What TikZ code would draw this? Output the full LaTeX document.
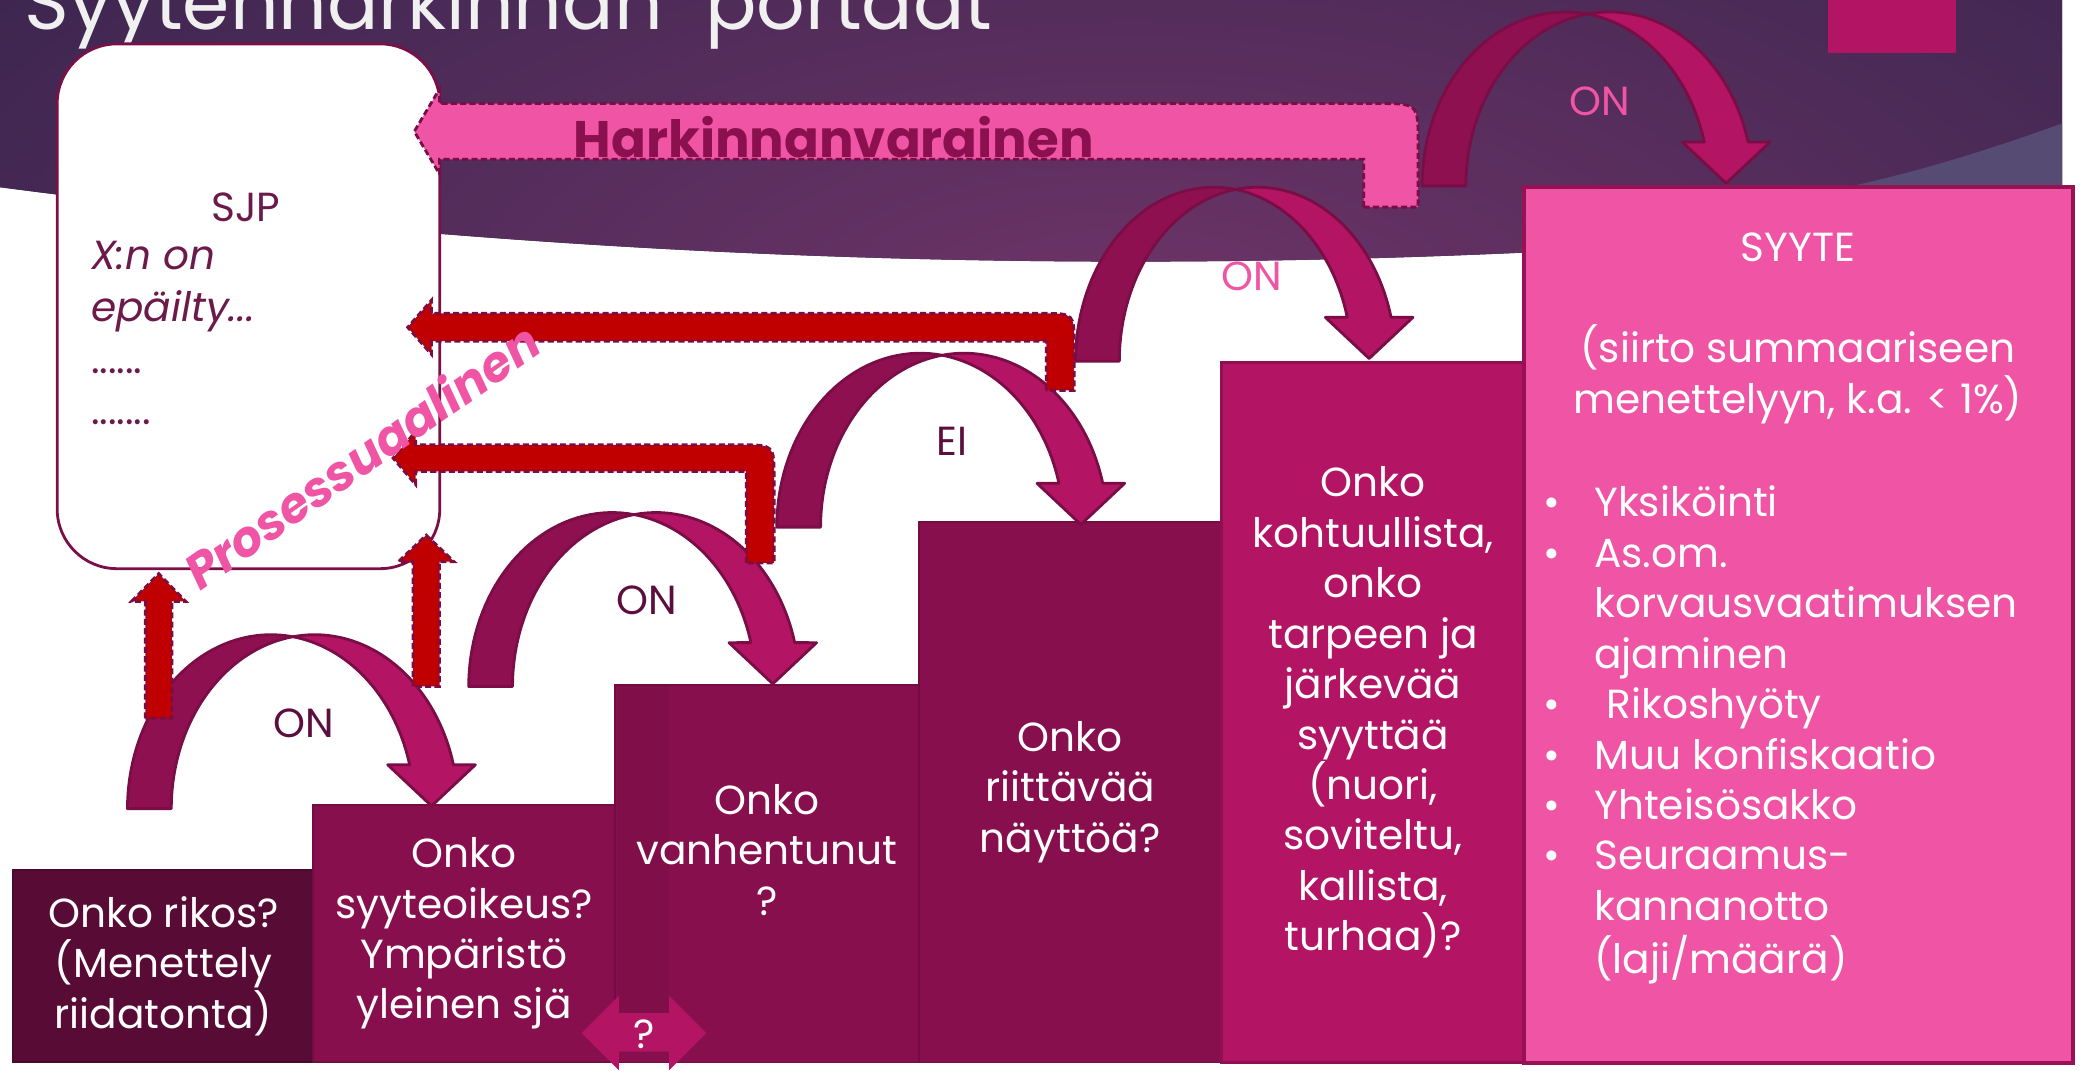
\documentclass[tikz,border=0pt]{standalone}
\usepackage{fontspec}
\setmainfont{Poppins}

\definecolor{bgdark}{HTML}{2A2146}
\definecolor{bgmid}{HTML}{6E3468}
\definecolor{bglav}{HTML}{564C73}
\definecolor{plum}{HTML}{5C0F3E}
\definecolor{sjpplum}{HTML}{6B1A4A}
\definecolor{sjpedge}{HTML}{7A1048}
\definecolor{boxone}{HTML}{570B35}
\definecolor{boxmid}{HTML}{870F4D}
\definecolor{boxhot}{HTML}{B31464}
\definecolor{boxpink}{HTML}{EF55A4}
\definecolor{arrback}{HTML}{8E1051}
\definecolor{arrfront}{HTML}{B31464}
\definecolor{arredge}{HTML}{7A0D46}
\definecolor{procred}{HTML}{C00000}
\definecolor{harktext}{HTML}{8A1050}

\newcommand{\bodyfont}{\fontsize{8.7}{10.8}\selectfont}

\tikzset{
  backband/.style={fill=arrback, draw=arredge, line width=0.6pt, line join=round},
  frontband/.style={fill=arrfront, draw=arredge, line width=0.6pt, line join=round},
  procarrow/.style={fill=procred, draw=arredge, line width=0.6pt, dash pattern=on 1.3pt off 0.7pt},
  harkarrow/.style={fill=boxpink, draw=arredge, line width=0.6pt, dash pattern=on 1.3pt off 0.7pt},
  stairbox/.style={rectangle, anchor=north west, inner sep=0pt, outer sep=0pt, text=white, align=center, font=\bodyfont},
  sjpbox/.style={rectangle, anchor=north west, draw=sjpedge, fill=white, line width=0.6pt, rounded corners=0.45cm, minimum width=2.88cm, minimum height=3.95cm},
  sjptext/.style={text=sjpplum, font=\bodyfont, inner sep=0pt},
  sjpline/.style={sjptext, anchor=base west},
  jumplbl/.style={text=plum, font=\bodyfont, inner sep=0pt},
}

\newcommand{\jumparrow}[3]{%
  \pgfmathsetmacro{\cxa}{#1+#3}%
  \pgfmathsetmacro{\cxb}{#1+#3+33}%
  \pgfmathsetmacro{\ta}{acos(16.5/#3)}%
  \pgfmathsetmacro{\tb}{180-\ta}%
  \pgfmathsetmacro{\hx}{#1+#3+16.5+#3*cos(14.6)}%
  \draw[backband] plot[domain=180:\ta,samples=40] ({\cxa+#3*cos(\x)},{#2-131*sin(\x)})
    -- plot[domain=\tb:180,samples=40] ({\cxb+#3*cos(\x)},{#2-131*sin(\x)}) -- cycle;
  \draw[frontband] plot[domain=\tb:14.6,samples=40] ({\cxb+#3*cos(\x)},{#2-131*sin(\x)})
    -- ({\hx+33},{#2-33}) -- (\hx,{#2-2}) -- ({\hx-33},{#2-33})
    -- plot[domain=14.6:\ta,samples=40] ({\cxa+#3*cos(\x)},{#2-131*sin(\x)}) -- cycle;
}

\begin{document}
\begin{tikzpicture}[x=0.01cm, y=-0.01cm]
\useasboundingbox (0,0) rectangle (1568,806);
\clip (0,0) rectangle (1568,806);
\fill[white] (0,0) rectangle (1568,806);

\fill[bgdark] (0,0) -- (1553,0) -- (1553,159) .. controls (1035.3,215.1) and (517.7,209.1) .. (0,141) -- cycle;
\begin{scope}
\clip (0,0) -- (1553,0) -- (1553,159) .. controls (1035.3,215.1) and (517.7,209.1) .. (0,141) -- cycle;
\shade[inner color=bgmid, outer color=bgdark] (850,240) ellipse (14cm and 6.2cm);
\end{scope}
\fill[bglav] (1391,141) .. controls (1450,128) and (1500,112) .. (1553,93) -- (1553,141) -- cycle;

\node[anchor=base west, text=white!94!black, font=\fontsize{16.3}{19}\selectfont, inner sep=0pt] (title) at (18,22) {Syytenharkinnan\hspace{0.18em}”portaat”};
\fill[boxhot] (1377,0) rectangle (1473,40);

\node[sjpbox] (sjp) at (42,32) {};
\node[sjptext] (sjphead) at (185,156) {SJP};
\node[sjpline] (sjpa) at (68,203) {\textit{X:n on}};
\node[sjpline] (sjpb) at (68,242) {\textit{epäilty...}};
\node[sjpline] (sjpc) at (68,281) {......};
\node[sjpline] (sjpd) at (68,320) {.......};

\draw[harkarrow] (1027,156) -- (1027,120) -- (331,120) -- (331,131) -- (312,99) -- (331,67) -- (331,78) -- (1038,78) .. controls (1068,78) .. (1068,108) -- (1068,156) -- cycle;
\node[text=harktext, font=\fontsize{11}{13}\selectfont\bfseries, inner sep=0pt] (hark) at (628,103) {Harkinnanvarainen};

\node[stairbox, fill=boxone, draw=boxone!85!black, minimum width=2.26cm, minimum height=1.45cm] (rikos) at (10,655) {Onko rikos?\\(Menettely\\riidatonta)};
\node[stairbox, fill=boxmid, draw=boxmid!85!black, minimum width=2.27cm, minimum height=1.94cm] (oikeus) at (236,606) {Onko\\syyteoikeus?\\Ympäristö\\yleinen sjä};
\node[stairbox, fill=boxmid, draw=boxmid!85!black, minimum width=2.29cm, minimum height=2.84cm] (vanh) at (463,516) {};
\fill[boxmid!95!black] (465,517) rectangle (504,763);
\node[text=white, font=\bodyfont, align=center, inner sep=0pt] (vanhtext) at (577.5,640) {Onko\\vanhentunut\\?};
\node[stairbox, fill=boxmid, draw=boxmid!85!black, minimum width=2.28cm, minimum height=4.07cm] (naytto) at (692,393) {Onko\\riittävää\\näyttöä?};
\node[stairbox, fill=boxhot, draw=arrback, line width=0.6pt, minimum width=2.28cm, minimum height=5.27cm] (kohtuus) at (920,273) {Onko\\kohtuullista,\\onko\\tarpeen ja\\järkevää\\syyttää\\(nuori,\\soviteltu,\\kallista,\\turhaa)?};
\node[stairbox, fill=boxpink, draw=boxhot!85!black, line width=0.8pt, minimum width=4.13cm, minimum height=6.59cm] (syyte) at (1148,141) {};
\node[text=white, font=\bodyfont, align=center, anchor=north, inner sep=0pt] (syytehead) at (1354,175) {SYYTE\\[10.8pt](siirto summaariseen\\menettelyyn, k.a. < 1\%)};
\node[text=white, font=\bodyfont, anchor=north west, inner sep=0pt] (syytelist) at (1162,362) {\begin{tabular}{@{}p{0.38cm}@{}l@{}}
\textbullet & Yksiköinti\\
\textbullet & As.om.\\
 & korvausvaatimuksen\\
 & ajaminen\\
\textbullet & \hspace{0.3em}Rikoshyöty\\
\textbullet & Muu konfiskaatio\\
\textbullet & Yhteisösakko\\
\textbullet & Seuraamus-\\
 & kannanotto\\
 & (laji/määrä)
\end{tabular}};

\fill[boxhot] (438,778) -- (466,750) -- (466,763) -- (504,763) -- (504,750) -- (532,778) -- (504,806) -- (504,792) -- (466,792) -- (466,806) -- cycle;
\node[text=white, font=\bodyfont, inner sep=0pt] (ehka) at (485,779) {?};

\jumparrow{96}{609}{108}
\jumparrow{353}{517}{108}
\jumparrow{585}{397}{108}
\jumparrow{810}{272}{104}
\jumparrow{1071}{140}{108}
\node[jumplbl] (onA) at (229,545) {ON};
\node[jumplbl] (onB) at (487,452) {ON};
\node[jumplbl] (eiC) at (717,332) {EI};
\node[jumplbl, text=boxpink] (onD) at (943,208) {ON};
\node[jumplbl, text=boxpink] (onE) at (1205,76) {ON};

\draw[procarrow] (109.5,541) -- (109.5,453) -- (99,453) -- (119.5,432) -- (140,453) -- (129.5,453) -- (129.5,541) -- cycle;
\draw[procarrow] (311,517) -- (311,423) -- (300,423) -- (321,403) -- (342,423) -- (331,423) -- (331,517) -- cycle;
\draw[procarrow] (562,424) -- (562,355) -- (313,355) -- (313,365) -- (296,345) -- (313,325) -- (313,335) -- (558,335) .. controls (583,335) .. (583,360) -- (583,424) -- cycle;
\draw[procarrow] (788,294) -- (788,257) -- (325,257) -- (325,267) -- (307,246.5) -- (325,226) -- (325,236) -- (785,236) .. controls (809,236) .. (809,260) -- (809,294) -- cycle;
\node[text=boxpink, font=\fontsize{10.5}{12}\selectfont\bfseries\itshape, rotate=35, inner sep=0pt] (proc) at (272,343) {Prosessuaalinen};
\end{tikzpicture}
\end{document}
